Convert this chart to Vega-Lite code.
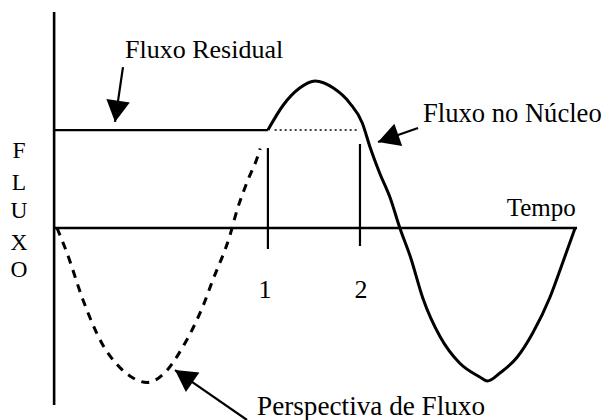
{
  "$schema": "https://vega.github.io/schema/vega-lite/v6.json",
  "width": 604,
  "height": 420,
  "padding": 0,
  "autosize": {"type": "none"},
  "background": "white",
  "config": {"view": {"stroke": null}, "text": {"font": "Liberation Serif", "color": "black"}},
  "encoding": {
    "x": {"field": "t", "type": "quantitative", "scale": {"domain": [-59.2, 568], "nice": false, "zero": false}, "axis": null},
    "y": {"field": "f", "type": "quantitative", "scale": {"domain": [-1.28, 1.52], "nice": false, "zero": false}, "axis": null}
  },
  "layer": [
    {
      "data": {"values": [
        {"item": "eixo do fluxo", "t": -3, "f": 1.44, "t2": -3, "f2": -1.18},
        {"item": "eixo do tempo", "t": -3, "f": 0, "t2": 540, "f2": 0}
      ]},
      "mark": {"type": "rule", "color": "black", "strokeWidth": 2.6},
      "encoding": {"x2": {"field": "t2"}, "y2": {"field": "f2"}}
    },
    {
      "data": {"values": [
        {"item": "fluxo residual", "t": -3, "f": 0.653, "t2": 219, "f2": 0.653},
        {"item": "instante 1", "t": 219, "f": 0.533, "t2": 219, "f2": -0.14},
        {"item": "instante 2", "t": 314.6, "f": 0.56, "t2": 314.6, "f2": -0.12}
      ]},
      "mark": {"type": "rule", "color": "black", "strokeWidth": 2.2},
      "encoding": {"x2": {"field": "t2"}, "y2": {"field": "f2"}}
    },
    {
      "data": {"values": [
        {"item": "nível residual", "t": 226, "f": 0.653, "t2": 312, "f2": 0.653}
      ]},
      "mark": {"type": "rule", "color": "black", "strokeWidth": 1.6, "strokeDash": [2, 3]},
      "encoding": {"x2": {"field": "t2"}, "y2": {"field": "f2"}}
    },
    {
      "data": {"values": [
        {"t": 0, "f": 0},
        {"t": 10.4, "f": -0.167},
        {"t": 27, "f": -0.48},
        {"t": 46.7, "f": -0.77},
        {"t": 62.3, "f": -0.91},
        {"t": 79, "f": -1.0},
        {"t": 93.5, "f": -1.03},
        {"t": 114, "f": -0.95},
        {"t": 130, "f": -0.8},
        {"t": 141, "f": -0.67},
        {"t": 151.6, "f": -0.52},
        {"t": 161, "f": -0.36},
        {"t": 180, "f": -0.04},
        {"t": 187, "f": 0.12},
        {"t": 197, "f": 0.3},
        {"t": 208, "f": 0.47},
        {"t": 211, "f": 0.53}
      ]},
      "mark": {"type": "line", "color": "black", "strokeWidth": 3, "strokeDash": [8, 7], "interpolate": "monotone"},
      "encoding": {}
    },
    {
      "data": {"values": [
        {"t": 219, "f": 0.653},
        {"t": 235, "f": 0.82},
        {"t": 252, "f": 0.933},
        {"t": 268, "f": 0.98},
        {"t": 287, "f": 0.933},
        {"t": 304, "f": 0.833},
        {"t": 317, "f": 0.7},
        {"t": 325, "f": 0.54},
        {"t": 335, "f": 0.367},
        {"t": 346, "f": 0.2},
        {"t": 356, "f": 0},
        {"t": 367, "f": -0.193},
        {"t": 380, "f": -0.47},
        {"t": 398, "f": -0.727},
        {"t": 418, "f": -0.9},
        {"t": 439, "f": -0.993},
        {"t": 447, "f": -1.02},
        {"t": 460, "f": -0.967},
        {"t": 478, "f": -0.86},
        {"t": 494, "f": -0.7},
        {"t": 512, "f": -0.46},
        {"t": 525, "f": -0.233},
        {"t": 538, "f": 0}
      ]},
      "mark": {"type": "line", "color": "black", "strokeWidth": 3, "interpolate": "monotone"},
      "encoding": {}
    },
    {
      "data": {"name": "setas", "values": [
        {"item": "Fluxo Residual", "t": 60.2, "f": 0.707, "t2": 68.5, "f2": 1.073, "dir": 8.3},
        {"item": "Fluxo no Núcleo", "t": 333.3, "f": 0.573, "t2": 374.9, "f2": 0.667, "dir": 70.7},
        {"item": "Perspectiva de Fluxo", "t": 122.5, "f": -0.947, "t2": 197.3, "f2": -1.28, "dir": 124.8}
      ]},
      "layer": [
        {
          "mark": {"type": "rule", "color": "black", "strokeWidth": 2.2},
          "encoding": {"x2": {"field": "t2"}, "y2": {"field": "f2"}}
        },
        {
          "mark": {"type": "point", "shape": "M0,0L-0.55,-1L0.55,-1Z", "filled": true, "color": "black", "opacity": 1, "size": 1850},
          "encoding": {"angle": {"field": "dir", "type": "quantitative", "scale": null}}
        }
      ]
    },
    {
      "data": {"values": [
        {"label": "Fluxo Residual", "t": 70.6, "f": 1.133}
      ]},
      "mark": {"type": "text", "fontSize": 26, "align": "left", "baseline": "alphabetic"},
      "encoding": {"text": {"field": "label"}}
    },
    {
      "data": {"values": [
        {"label": "Fluxo no Núcleo", "t": 380, "f": 0.707}
      ]},
      "mark": {"type": "text", "fontSize": 26.6, "align": "left", "baseline": "alphabetic"},
      "encoding": {"text": {"field": "label"}}
    },
    {
      "data": {"values": [
        {"label": "Perspectiva de Fluxo", "t": 207.7, "f": -1.247}
      ]},
      "mark": {"type": "text", "fontSize": 27.2, "align": "left", "baseline": "alphabetic"},
      "encoding": {"text": {"field": "label"}}
    },
    {
      "data": {"values": [
        {"label": "Tempo", "t": 467, "f": 0.08}
      ]},
      "mark": {"type": "text", "fontSize": 25, "align": "left", "baseline": "alphabetic"},
      "encoding": {"text": {"field": "label"}}
    },
    {
      "data": {"values": [
        {"label": "1", "t": 216, "f": -0.467},
        {"label": "2", "t": 315.7, "f": -0.467}
      ]},
      "mark": {"type": "text", "fontSize": 26, "align": "center", "baseline": "alphabetic"},
      "encoding": {"text": {"field": "label"}}
    },
    {
      "data": {"values": [
        {"label": "F", "t": -39.5, "f": 0.467},
        {"label": "L", "t": -39.5, "f": 0.253},
        {"label": "U", "t": -39.5, "f": 0.067},
        {"label": "X", "t": -39.5, "f": -0.147},
        {"label": "O", "t": -39.5, "f": -0.327}
      ]},
      "mark": {"type": "text", "fontSize": 23.5, "align": "center", "baseline": "alphabetic"},
      "encoding": {"text": {"field": "label"}}
    }
  ]
}
